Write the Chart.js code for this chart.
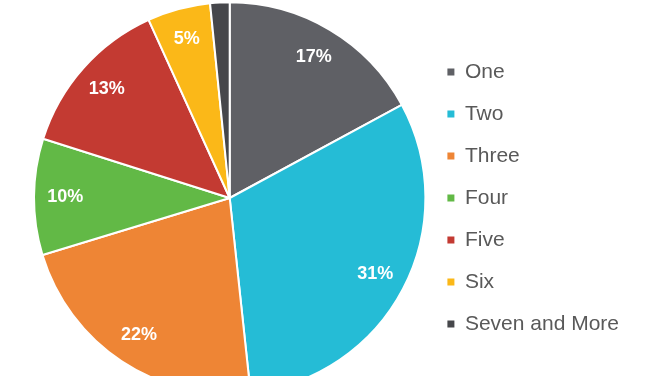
<!DOCTYPE html>
<html>
<head>
<meta charset="utf-8">
<script src="https://cdn.jsdelivr.net/npm/chart.js@4"></script>
<style>
  html, body { margin: 0; padding: 0; background: #fff; }
  #frame { width: 648px; height: 376px; overflow: hidden; position: relative; }
</style>
</head>
<body>
<div id="frame"><canvas id="pieChart" width="648" height="396"></canvas></div>
<script>
const categories = ['One', 'Two', 'Three', 'Four', 'Five', 'Six', 'Seven and More'];
const shares = [17.1, 31.2, 22.0, 9.6, 13.3, 5.2, 1.6];
const sliceColors = ['#5f6065', '#25bcd6', '#ee8535', '#62b946', '#c33a32', '#fbb818', '#46474b'];

// white percentage labels inside slices
const percentLabels = {
    id: 'percentLabels',
    afterDatasetsDraw(chart) {
        const c = chart.ctx;
        const meta = chart.getDatasetMeta(0);
        const total = shares.reduce((a, b) => a + b, 0);
        c.save();
        c.fillStyle = '#ffffff';
        c.font = 'bold 18px "Liberation Sans", Arial, sans-serif';
        c.textAlign = 'center';
        c.textBaseline = 'middle';
        meta.data.forEach((arc, i) => {
            if (shares[i] < 3) return;
            const mid = (arc.startAngle + arc.endAngle) / 2;
            const r = arc.outerRadius * 0.84;
            const x = arc.x + Math.cos(mid) * r;
            const y = arc.y + Math.sin(mid) * r;
            c.fillText(Math.round(shares[i] / total * 100) + '%', x, y);
        });
        c.restore();
    }
};

const ctx = document.getElementById('pieChart').getContext('2d');
let chart = new Chart(ctx, {
    type: 'pie',
    data: {
        labels: categories,
        datasets: [{
            data: shares,
            backgroundColor: sliceColors,
            borderColor: '#ffffff',
            borderWidth: 2
        }]
    },
    options: {
        responsive: false,
        animation: false,
        layout: { padding: { left: 33, right: 19 } },
        plugins: {
            tooltip: { enabled: false },
            legend: {
                position: 'right',
                align: 'center',
                labels: {
                    boxWidth: 7,
                    boxHeight: 7,
                    padding: 21,
                    color: '#595959',
                    font: { size: 21, family: '"Liberation Sans", Arial, sans-serif' },
                    generateLabels(chart) {
                        // no white outline round the legend squares
                        return Chart.overrides.pie.plugins.legend.labels.generateLabels(chart)
                            .map(item => ({ ...item, lineWidth: 0 }));
                    }
                }
            }
        }
    },
    plugins: [percentLabels]
});
</script>
</body>
</html>
